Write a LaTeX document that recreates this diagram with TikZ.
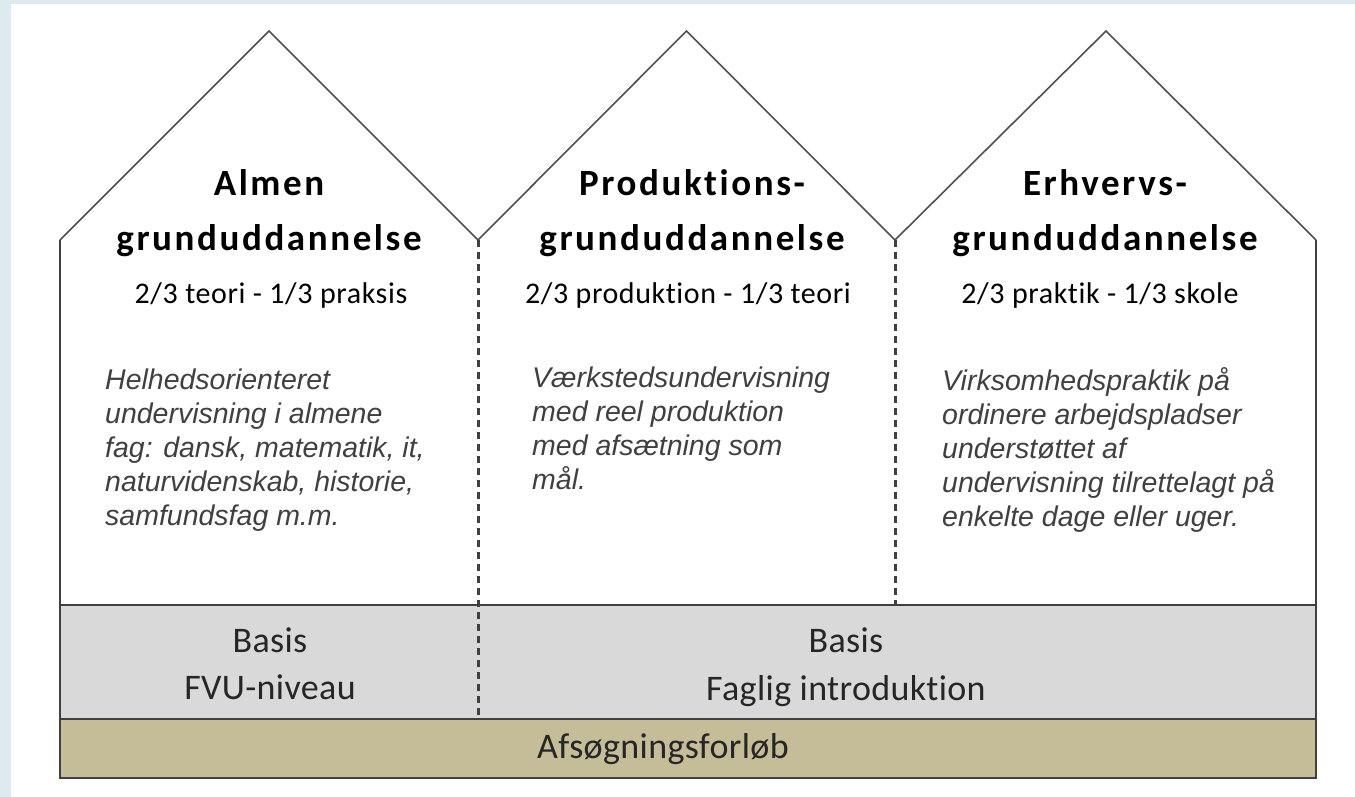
\documentclass[tikz,border=0pt]{standalone}
\usepackage{fontspec}
\setmainfont{Carlito}[Ligatures=NoCommon]
\newfontfamily\titlefont{Carlito}[LetterSpace=7,Ligatures=NoCommon]
\newfontfamily\subfont{Carlito}[LetterSpace=2,Ligatures=NoCommon]
\newfontfamily\basefont{Carlito}[LetterSpace=1,Ligatures=NoCommon]
\newfontfamily\descfont{Liberation Sans}
\definecolor{bgblue}{HTML}{DDEAEF}
\definecolor{greyband}{HTML}{D9D9D9}
\definecolor{tanband}{HTML}{C4BD97}
\definecolor{linec}{HTML}{404040}
\definecolor{roofc}{HTML}{505050}
\definecolor{descc}{HTML}{404040}
\tikzset{
  roof/.style={draw=roofc, line width=1.6pt, line join=miter},
  wall/.style={draw=linec, line width=2.2pt},
  bandline/.style={draw=linec, line width=2.4pt},
  dashline/.style={draw=linec, line width=3pt, dash pattern=on 7pt off 5pt},
  title/.style={anchor=base, inner sep=0pt, font=\titlefont\bfseries\fontsize{37}{44}\selectfont},
  subtitle/.style={anchor=base, inner sep=0pt, font=\subfont\fontsize{30}{36}\selectfont},
  basetext/.style={anchor=base, inner sep=0pt, text=black!85, font=\basefont\fontsize{36}{43}\selectfont},
  desc/.style={anchor=base west, inner sep=0pt, align=left, text=descc, font=\descfont\itshape\fontsize{28.5}{34}\selectfont}
}
\begin{document}
\begin{tikzpicture}[x=1pt,y=-1pt]
\fill[bgblue] (0,0) rectangle (1355,797);
\fill[white] (11,4) rectangle (1355,797);
\useasboundingbox (0,0) rectangle (1355,797);
% outline points
\coordinate (bl) at (60,778);
\coordinate (e1) at (60,240);
\coordinate (p1) at (269,31);
\coordinate (v1) at (478,240);
\coordinate (p2) at (686.5,31);
\coordinate (v2) at (895,240);
\coordinate (p3) at (1106,31);
\coordinate (e2) at (1316,240);
\coordinate (br) at (1316,778);
\coordinate (g1) at (60,605);
\coordinate (g2) at (1316,605);
\coordinate (t1) at (60,719);
\coordinate (t2) at (1316,719);
\coordinate (v1b) at (478,719);
\coordinate (v2b) at (895,605);
% white house body
\fill[white] (bl) -- (e1) -- (p1) -- (v1) -- (p2) -- (v2) -- (p3) -- (e2) -- (br) -- cycle;
% bands
\fill[greyband] (g1) rectangle (t2);
\fill[tanband] (t1) rectangle (br);
% roof
\draw[roof] (e1) -- (p1) -- (v1) -- (p2) -- (v2) -- (p3) -- (e2);
% walls and bands
\draw[wall] (e1) -- (bl) -- (br) -- (e2);
\draw[bandline] (g1) -- (g2);
\draw[bandline] (t1) -- (t2);
% dashed separators
\draw[dashline] (v1) -- (v1b);
\draw[dashline] (v2) -- (v2b);
% titles
\node[title] (a1) at (269,195) {Almen};
\node[title] (a2) at (269,250) {grunduddannelse};
\node[subtitle] (a3) at (271,303) {2/3 teori - 1/3 praksis};
\node[title] (b1) at (692,195) {Produktions-};
\node[title] (b2) at (692,250) {grunduddannelse};
\node[subtitle] (b3) at (688,303) {2/3 produktion - 1/3 teori};
\node[title] (c1) at (1105,195) {Erhvervs-};
\node[title] (c2) at (1105,250) {grunduddannelse};
\node[subtitle] (c3) at (1100,303) {2/3 praktik - 1/3 skole};
% descriptions (base anchor = last line baseline)
\node[desc] (ad) at (105,525) {Helhedsorienteret\\undervisning i almene\\fag: dansk, matematik, it,\\naturvidenskab, historie,\\samfundsfag m.m.};
\node[desc] (bd) at (532,489) {Værkstedsundervisning\\med reel produktion\\med afsætning som\\mål.};
\node[desc] (cd) at (942,526) {Virksomhedspraktik på\\ordinere arbejdspladser\\understøttet af\\undervisning tilrettelagt på\\enkelte dage eller uger.};
% basis band
\node[basetext] (l1) at (270,652) {Basis};
\node[basetext] (l2) at (270,699) {FVU-niveau};
\node[basetext] (r1) at (846,652) {Basis};
\node[basetext] (r2) at (846,700) {Faglig introduktion};
\node[basetext] (af) at (663,758) {Afsøgningsforløb};
\end{tikzpicture}
\end{document}
